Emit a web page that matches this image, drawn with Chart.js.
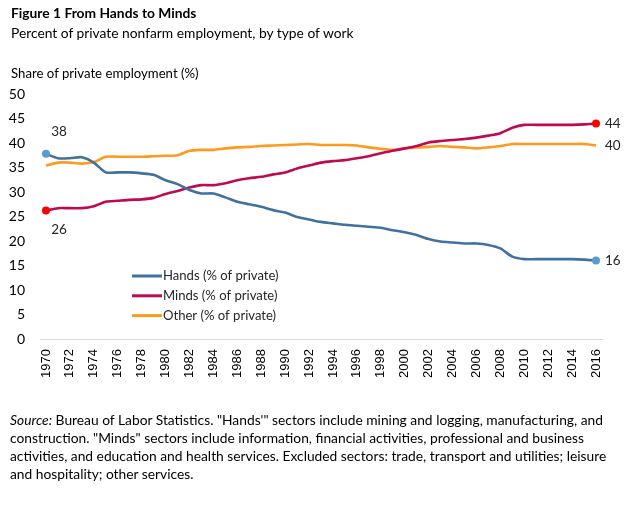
<!DOCTYPE html>
<html>
<head>
<meta charset="utf-8">
<script src="https://cdn.jsdelivr.net/npm/chart.js@4/dist/chart.umd.min.js"></script>
<style>
  html, body { margin: 0; padding: 0; background: #fff; }
  body { width: 624px; height: 532px; position: relative; overflow: hidden; font-family: Lato, 'Open Sans', sans-serif; color: #000; }
  #wrap { position: absolute; left: 0; top: 0; width: 624px; height: 532px; }
  .txt { position: absolute; left: 11px; white-space: nowrap; }
  #title { top: 4px; font-size: 13.8px; font-weight: bold; }
  #subtitle { top: 24px; font-size: 13.8px; }
  #ytitle { top: 65px; font-size: 13.2px; }
  #note { top: 411px; left: 10px; font-size: 13.8px; line-height: 18px; }
</style>
</head>
<body>
<div id="wrap"><canvas id="chart" width="624" height="532"></canvas></div>
<div class="txt" id="title">Figure 1 From Hands to Minds</div>
<div class="txt" id="subtitle">Percent of private nonfarm employment, by type of work</div>
<div class="txt" id="ytitle">Share of private employment (%)</div>
<div class="txt" id="note"><i>Source:</i> Bureau of Labor Statistics. "Hands'" sectors include mining and logging, manufacturing, and<br>construction. "Minds" sectors include information, financial activities, professional and business<br>activities, and education and health services. Excluded sectors: trade, transport and utilities; leisure<br>and hospitality; other services.</div>
<script>
const years = [];
for (let y = 1970; y <= 2016; y++) years.push(String(y));

const hands = [
  37.8, 36.9, 36.9, 37.1, 36.0, 34.0, 34.0, 34.0, 33.8, 33.5,
  32.4, 31.6, 30.4, 29.7, 29.7, 28.9, 28.0, 27.5, 27.0, 26.3,
  25.8, 24.9, 24.4, 23.9, 23.6, 23.3, 23.1, 22.9, 22.7, 22.2,
  21.8, 21.2, 20.4, 19.9, 19.7, 19.5, 19.5, 19.2, 18.5, 16.8,
  16.3, 16.3, 16.3, 16.3, 16.3, 16.2, 16.0
];
const minds = [
  26.2, 26.7, 26.7, 26.7, 27.1, 28.0, 28.2, 28.4, 28.5, 28.8,
  29.6, 30.2, 30.9, 31.4, 31.4, 31.8, 32.4, 32.8, 33.1, 33.6,
  34.0, 34.8, 35.4, 36.0, 36.3, 36.5, 36.9, 37.3, 37.9, 38.4,
  38.9, 39.4, 40.1, 40.4, 40.6, 40.8, 41.1, 41.5, 42.0, 43.1,
  43.7, 43.7, 43.7, 43.7, 43.7, 43.8, 44.0
];
const other = [
  35.4, 36.0, 36.0, 35.8, 36.1, 37.2, 37.2, 37.2, 37.2, 37.3,
  37.4, 37.5, 38.4, 38.6, 38.6, 38.9, 39.1, 39.2, 39.4, 39.5,
  39.6, 39.7, 39.8, 39.6, 39.6, 39.6, 39.5, 39.1, 38.8, 38.6,
  38.9, 39.1, 39.2, 39.4, 39.2, 39.1, 38.9, 39.1, 39.4, 39.8,
  39.8, 39.8, 39.8, 39.8, 39.8, 39.8, 39.5
];
const seriesNames = ['Hands (% of private)', 'Minds (% of private)', 'Other (% of private)'];

const lineColors = ['#41729f', '#be0a50', '#ff9a1f'];
const dotColors = ['#5b9bd5', '#ff0000', null];

// value labels at the ends of the lines: [dataset, index, dx, dy, align]
const endLabels = [
  [0, 0, 13, -22, 'center'],
  [1, 0, 13, 19, 'center'],
  [1, years.length - 1, 9, 0, 'left'],
  [2, years.length - 1, 9, 0, 'left'],
  [0, years.length - 1, 9, 0, 'left']
];

const endLabelPlugin = {
  id: 'endLabels',
  afterDatasetsDraw(chart) {
    const ctx = chart.ctx;
    ctx.save();
    ctx.font = '13.5px Lato, sans-serif';
    ctx.fillStyle = '#262626';
    ctx.textBaseline = 'middle';
    endLabels.forEach(([ds, i, dx, dy, align]) => {
      const pt = chart.getDatasetMeta(ds).data[i];
      const v = chart.data.datasets[ds].data[i];
      ctx.textAlign = align;
      ctx.fillText(String(Math.round(v)), pt.x + dx, pt.y + dy);
    });
    ctx.restore();
  }
};

const legendPlugin = {
  id: 'innerLegend',
  afterDraw(chart) {
    const ctx = chart.ctx;
    ctx.save();
    ctx.font = '13.1px Lato, sans-serif';
    ctx.textBaseline = 'middle';
    ctx.textAlign = 'left';
    chart.data.datasets.forEach((d, k) => {
      const y = 276 + k * 19.8;
      ctx.strokeStyle = d.borderColor;
      ctx.lineWidth = 3;
      ctx.beginPath();
      ctx.moveTo(132, y);
      ctx.lineTo(162, y);
      ctx.stroke();
      ctx.fillStyle = '#262626';
      ctx.fillText(d.label, 163, y);
    });
    ctx.restore();
  }
};

const makeSet = (k, data) => ({
  label: seriesNames[k],
  data: data,
  borderColor: lineColors[k],
  backgroundColor: dotColors[k] || lineColors[k],
  borderWidth: 2.6,
  tension: 0.25,
  pointRadius: (c) => (dotColors[k] && (c.dataIndex === 0 || c.dataIndex === years.length - 1) ? 4 : 0),
  pointBorderWidth: 0,
  pointHoverRadius: 0,
  clip: false
});

new Chart(document.getElementById('chart'), {
  type: 'line',
  data: {
    labels: years,
    datasets: [makeSet(0, hands), makeSet(1, minds), makeSet(2, other)]
  },
  options: {
    responsive: false,
    animation: false,
    events: [],
    layout: { padding: { left: 0, right: 22, top: 94, bottom: 143 } },
    plugins: { legend: { display: false }, tooltip: { enabled: false } },
    scales: {
      x: {
        offset: true,
        grid: { display: false, drawTicks: false },
        border: { color: '#d9d9d9', width: 1 },
        afterFit(scale) { scale.height = 50; },
        ticks: {
          autoSkip: false,
          minRotation: 90,
          maxRotation: 90,
          padding: 10,
          color: '#000',
          font: { family: "'Liberation Sans', Arial, sans-serif", size: 13 },
          callback(value, index) { return index % 2 === 0 ? this.getLabelForValue(value) : ''; }
        }
      },
      y: {
        min: 0,
        max: 50,
        grid: { display: false, drawTicks: false },
        border: { display: false },
        afterFit(scale) { scale.width = 40; },
        ticks: {
          stepSize: 5,
          padding: 15,
          color: '#000',
          font: { family: 'Lato, sans-serif', size: 14 }
        }
      }
    }
  },
  plugins: [endLabelPlugin, legendPlugin]
});
</script>
</body>
</html>
